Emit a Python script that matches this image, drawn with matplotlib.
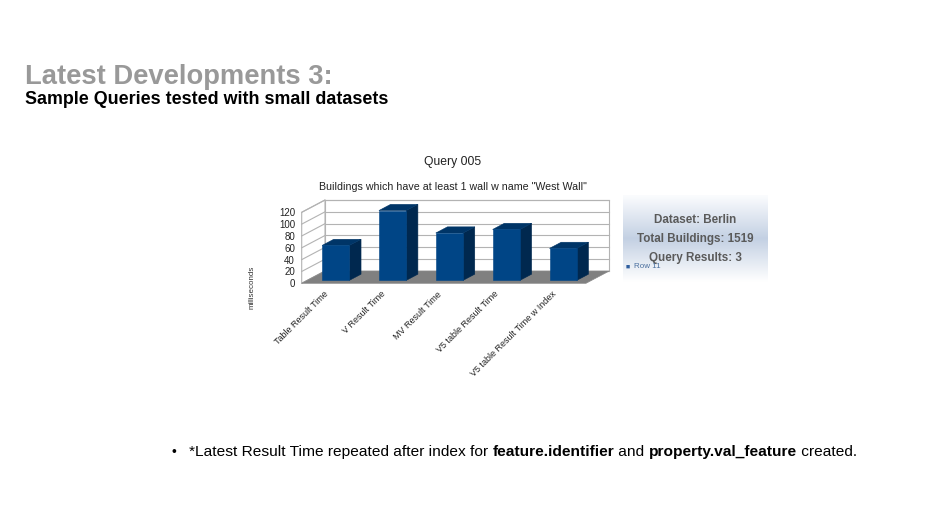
import numpy as np
import matplotlib
matplotlib.use("Agg")
import matplotlib.pyplot as plt
from matplotlib.patches import Polygon, Rectangle
from matplotlib.colors import LinearSegmentedColormap

plt.rcParams['font.family'] = ['Liberation Sans', 'DejaVu Sans']

# chart data
categories = ["Table Result Time", "V Result Time", "MV Result Time",
              "V5 table Result Time", "V5 table Result Time w Index"]
ms_values = [59, 118, 80, 86, 54]
y_ticks = [0, 20, 40, 60, 80, 100, 120]

W, H = 943, 530
fig = plt.figure(figsize=(W / 100, H / 100), dpi=100)


def fx(px):
    return px / W


def fy(py):
    return 1 - py / H


# slide header
fig.text(fx(25), fy(83.5), "Latest Developments 3:", fontsize=19.7, fontweight='bold',
         color='#999999', va='baseline', ha='left')
fig.text(fx(25), fy(103.5), "Sample Queries tested with small datasets", fontsize=12.9,
         fontweight='bold', color='black', va='baseline', ha='left')

# chart titles
fig.text(fx(453), fy(161.5), "Query 005", fontsize=8.7, color='#222222', ha='center', va='center')
fig.text(fx(453), fy(186.5), 'Buildings which have at least 1 wall w name "West Wall"',
         fontsize=7.7, color='#222222', ha='center', va='center')
fig.text(fx(252), fy(287.5), "milliseconds", fontsize=5.8, color='#333333', rotation=90,
         ha='center', va='center')

# pseudo-3d bar chart in data coords
DX, DY = 0.41, 20.8        # wall depth
F0, F1 = 0.24, 0.74        # bar depth fraction (front / back)
BW = 0.48
YMAX = 120
n = len(categories)

left_px, right_px, bot_px, top_px = 301.7, 609.3, 283.3, 200.0
ax = fig.add_axes([fx(left_px), fy(bot_px), (right_px - left_px) / W, (bot_px - top_px) / H])
ax.set_xlim(-0.5, n - 0.5 + DX)
ax.set_ylim(0, YMAX + DY)
ax.patch.set_alpha(0)
for s in ax.spines.values():
    s.set_visible(False)

x0, x1 = -0.5, n - 0.5
grid_c = '#b3b3b3'
# back wall
ax.add_patch(Rectangle((x0 + DX, DY), x1 - x0, YMAX, facecolor='white', edgecolor=grid_c,
                       lw=0.8, clip_on=False, zorder=1))
# left wall
ax.add_patch(Polygon([(x0, 0), (x0 + DX, DY), (x0 + DX, YMAX + DY), (x0, YMAX)],
                     closed=True, facecolor='white', edgecolor=grid_c, lw=0.8,
                     clip_on=False, zorder=1))
for v in y_ticks:
    ax.plot([x0 + DX, x1 + DX], [v + DY, v + DY], color=grid_c, lw=0.8, zorder=2, clip_on=False)
    ax.plot([x0, x0 + DX], [v, v + DY], color=grid_c, lw=0.8, zorder=2, clip_on=False)
# floor
ax.add_patch(Polygon([(x0, 0), (x1, 0), (x1 + DX, DY), (x0 + DX, DY)], closed=True,
                     facecolor='#808080', edgecolor='#8a8a8a', lw=0.5, zorder=3, clip_on=False))

# bars
front_c, side_c, top_c = '#004586', '#00284f', '#003567'
ddx, ddy = (F1 - F0) * DX, (F1 - F0) * DY
for i, v in enumerate(ms_values):
    xl = i + F0 * DX - BW / 2
    xr = xl + BW
    yb = F0 * DY
    ax.add_patch(Polygon([(xr, yb), (xr + ddx, yb + ddy), (xr + ddx, v + yb + ddy), (xr, v + yb)],
                         closed=True, facecolor=side_c, edgecolor=side_c, lw=0.4, zorder=4,
                         clip_on=False))
    ax.add_patch(Polygon([(xl, v + yb), (xr, v + yb), (xr + ddx, v + yb + ddy), (xl + ddx, v + yb + ddy)],
                         closed=True, facecolor=top_c, edgecolor=top_c, lw=0.4, zorder=4,
                         clip_on=False))
    ax.add_patch(Rectangle((xl, yb), BW, v, facecolor=front_c, edgecolor=front_c, lw=0.4,
                           zorder=5, clip_on=False))

ax.set_yticks(y_ticks)
ax.set_yticklabels([str(t) for t in y_ticks], fontsize=7, color='#222222')
ax.set_xticks(range(n))
ax.set_xticklabels(categories, rotation=45, ha='right', fontsize=6.5, color='#222222')
ax.tick_params(axis='both', length=0)
ax.tick_params(axis='y', pad=4.8)
ax.tick_params(axis='x', pad=4.5)

# info / legend box with vertical gradient
bx0, bx1, by0, by1 = 623, 767, 195, 282
bax = fig.add_axes([fx(bx0), fy(by1), (bx1 - bx0) / W, (by1 - by0) / H])
cmap = LinearSegmentedColormap.from_list('grad', [(0, '#fbfcfe'), (0.5, '#c3d0e3'), (1, '#ffffff')])
bax.imshow(np.linspace(0, 1, 100).reshape(-1, 1), aspect='auto', cmap=cmap,
           extent=[0, 1, 0, 1], origin='upper')
bax.set_axis_off()

info_lines = ["Dataset: Berlin", "Total Buildings: 1519", "Query Results: 3"]
info_y = [219.5, 239, 258.5]
for txt, yy in zip(info_lines, info_y):
    fig.text(fx(695), fy(yy), txt, fontsize=8.4, fontweight='bold', color='#5a5a5a',
             ha='center', va='center')
fig.text(fx(626), fy(266.7), "\u25a0", fontsize=5, color='#2e5e9e', ha='left', va='center')
fig.text(fx(634), fy(266.7), "Row 11", fontsize=5.8, color='#4a6f9f', ha='left', va='center')

# bullet line with mixed weights
fig.text(fx(172), fy(456), "\u2022", fontsize=10, color='black', ha='left', va='baseline')
pieces = [("*Latest Result Time repeated after index for ", 'normal'),
          ("feature.identifier", 'bold'), (" and ", 'normal'),
          ("property.val_feature", 'bold'), (" created.", 'normal')]
renderer = fig.canvas.get_renderer()
xpos = 189.3
for txt, wt in pieces:
    t = fig.text(fx(xpos), fy(456), txt, fontsize=11.15, fontweight=wt, color='black',
                 ha='left', va='baseline')
    bb = t.get_window_extent(renderer=renderer)
    xpos += bb.width

fig.savefig('out.png', dpi=100)
